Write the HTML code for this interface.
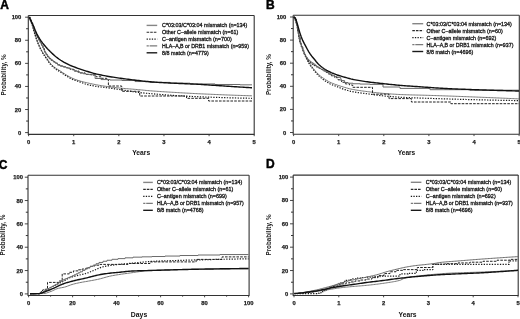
<!DOCTYPE html>
<html><head><meta charset="utf-8"><style>
html,body{margin:0;padding:0;background:#fff;}
svg{display:block;filter:grayscale(1);}
text{font-family:"Liberation Sans", sans-serif;}
</style></head><body>
<svg width="520" height="319" viewBox="0 0 520 319">
<rect width="520" height="319" fill="#fff"/>
<path d="M28.3,15.5 V134.4 H254.2 V15.5" stroke="#333" stroke-width="1.1" fill="none"/>
<path d="M28.3,15.5 H254.2" stroke="#333" stroke-width="1.1" fill="none"/>
<path d="M25.1,132.6 H28.3" stroke="#333" stroke-width="0.9"/>
<text x="21.3" y="134.6" font-size="5.8" text-anchor="end" font-weight="bold" fill="#222" stroke="#222" stroke-width="0.25">0</text>
<path d="M26.1,121.06 H28.3" stroke="#333" stroke-width="1.0"/>
<path d="M25.1,109.52 H28.3" stroke="#333" stroke-width="0.9"/>
<text x="21.3" y="111.52" font-size="5.8" text-anchor="end" font-weight="bold" fill="#222" stroke="#222" stroke-width="0.25">20</text>
<path d="M26.1,97.98 H28.3" stroke="#333" stroke-width="1.0"/>
<path d="M25.1,86.44 H28.3" stroke="#333" stroke-width="0.9"/>
<text x="21.3" y="88.44" font-size="5.8" text-anchor="end" font-weight="bold" fill="#222" stroke="#222" stroke-width="0.25">40</text>
<path d="M26.1,74.9 H28.3" stroke="#333" stroke-width="1.0"/>
<path d="M25.1,63.36 H28.3" stroke="#333" stroke-width="0.9"/>
<text x="21.3" y="65.36" font-size="5.8" text-anchor="end" font-weight="bold" fill="#222" stroke="#222" stroke-width="0.25">60</text>
<path d="M26.1,51.82 H28.3" stroke="#333" stroke-width="1.0"/>
<path d="M25.1,40.28 H28.3" stroke="#333" stroke-width="0.9"/>
<text x="21.3" y="42.28" font-size="5.8" text-anchor="end" font-weight="bold" fill="#222" stroke="#222" stroke-width="0.25">80</text>
<path d="M26.1,28.74 H28.3" stroke="#333" stroke-width="1.0"/>
<path d="M25.1,17.2 H28.3" stroke="#333" stroke-width="0.9"/>
<text x="21.3" y="19.2" font-size="5.8" text-anchor="end" font-weight="bold" fill="#222" stroke="#222" stroke-width="0.25">100</text>
<path d="M28.6,134.4 V136.2" stroke="#333" stroke-width="0.9"/>
<text x="28.6" y="144.4" font-size="5.8" text-anchor="middle" font-weight="bold" fill="#222" stroke="#222" stroke-width="0.25">0</text>
<path d="M73.72,134.4 V136.2" stroke="#333" stroke-width="0.9"/>
<text x="73.72" y="144.4" font-size="5.8" text-anchor="middle" font-weight="bold" fill="#222" stroke="#222" stroke-width="0.25">1</text>
<path d="M118.84,134.4 V136.2" stroke="#333" stroke-width="0.9"/>
<text x="118.84" y="144.4" font-size="5.8" text-anchor="middle" font-weight="bold" fill="#222" stroke="#222" stroke-width="0.25">2</text>
<path d="M163.96,134.4 V136.2" stroke="#333" stroke-width="0.9"/>
<text x="163.96" y="144.4" font-size="5.8" text-anchor="middle" font-weight="bold" fill="#222" stroke="#222" stroke-width="0.25">3</text>
<path d="M209.08,134.4 V136.2" stroke="#333" stroke-width="0.9"/>
<text x="209.08" y="144.4" font-size="5.8" text-anchor="middle" font-weight="bold" fill="#222" stroke="#222" stroke-width="0.25">4</text>
<path d="M254.2,134.4 V136.2" stroke="#333" stroke-width="0.9"/>
<text x="254.2" y="144.4" font-size="5.8" text-anchor="middle" font-weight="bold" fill="#222" stroke="#222" stroke-width="0.25">5</text>
<text x="141.2" y="155.4" font-size="7.8" text-anchor="middle" font-weight="bold" fill="#111" textLength="18" lengthAdjust="spacingAndGlyphs">Years</text>
<text x="0" y="0" font-size="6.4" text-anchor="middle" font-weight="bold" fill="#222" textLength="41" lengthAdjust="spacingAndGlyphs" transform="translate(6.3,75) rotate(-90)">Probability, %</text>
<text x="0.2" y="8.5" font-size="12" text-anchor="start" font-weight="bold" fill="#000" stroke="#000" stroke-width="0.45">A</text>
<path d="M146.6,25.4 H157.2" stroke="#858585" stroke-width="1.4" fill="none"/>
<text x="162" y="27.45" font-size="6.1" text-anchor="start" font-weight="normal" fill="#1a1a1a" textLength="85.4" lengthAdjust="spacingAndGlyphs" stroke="#1a1a1a" stroke-width="0.34">C*03:03/C*03:04 mismatch (n=134)</text>
<path d="M146.6,32.25 H157.2" stroke="#2a2a2a" stroke-width="1.2" fill="none" stroke-dasharray="2.6,1"/>
<text x="162" y="34.3" font-size="6.1" text-anchor="start" font-weight="normal" fill="#1a1a1a" textLength="76.3" lengthAdjust="spacingAndGlyphs" stroke="#1a1a1a" stroke-width="0.34">Other C–allele mismatch (n=61)</text>
<path d="M146.6,39.1 H157.2" stroke="#1a1a1a" stroke-width="1.3" fill="none" stroke-dasharray="1.3,1.3"/>
<text x="162" y="41.15" font-size="6.1" text-anchor="start" font-weight="normal" fill="#1a1a1a" textLength="69.9" lengthAdjust="spacingAndGlyphs" stroke="#1a1a1a" stroke-width="0.34">C–antigen mismatch (n=700)</text>
<path d="M146.6,45.95 H157.2" stroke="#7a7a7a" stroke-width="1.3" fill="none" stroke-dasharray="2.2,0.8,7,0"/>
<text x="162" y="48" font-size="6.1" text-anchor="start" font-weight="normal" fill="#1a1a1a" textLength="86.9" lengthAdjust="spacingAndGlyphs" stroke="#1a1a1a" stroke-width="0.34">HLA–A,B or DRB1 mismatch (n=959)</text>
<path d="M146.6,52.8 H157.2" stroke="#1a1a1a" stroke-width="1.4" fill="none"/>
<text x="162" y="54.85" font-size="6.1" text-anchor="start" font-weight="normal" fill="#1a1a1a" textLength="46.7" lengthAdjust="spacingAndGlyphs" stroke="#1a1a1a" stroke-width="0.34">8/8 match (n=4779)</text>
<polyline points="29.2,17.2 30.7,20.78 32.2,24.43 33.7,29.79 35.2,34.91 36.7,39.33 38.2,43.23 39.7,46.67 41.2,49.7 42.7,52.33 44.2,54.65 45.7,56.8 47.2,58.89 48.7,61.12 50.2,63.12 51.7,64.74 53.2,66.17 54.7,67.42 56.2,68.48 57.7,69.41 59.2,70.3 60.7,71.26 62.2,72.27 63.7,73.29 65.2,74.26 66.7,75.16 68.2,76.05 69.7,76.91 71.2,77.69 72.7,78.39 74.2,79.01 75.7,79.58 77.2,80.11 78.7,80.6 80.2,81.06 81.7,81.48 83.2,81.87 84.7,82.24 86.2,82.59 87.7,82.93 89.2,83.27 90.7,83.6 92.2,83.93 93.7,84.24 95.2,84.54 96.7,84.83 98.2,85.11 99.7,85.37 101.2,85.62 102.7,85.85 104.2,86.07 105.7,86.29 107.2,86.5 108.7,86.71 110.2,86.91 111.7,87.11 113.2,87.3 114.7,87.48 116.2,87.66 117.7,87.83 119.2,87.99 120.7,88.14 122.2,88.29 123.7,88.43 125.2,88.56 126.7,88.69 128.2,88.81 129.7,88.93 131.2,89.05 132.7,89.17 134.2,89.3 135.7,89.42 137.2,89.55 138.7,89.68 140.2,89.82 141.7,89.97 143.2,90.13 144.7,90.28 146.2,90.44 147.7,90.57 149.2,90.7 150.7,90.82 152.2,90.94 153.7,91.05 155.2,91.16 156.7,91.27 158.2,91.38 159.7,91.48 161.2,91.58 162.7,91.68 164.2,91.78 165.7,91.87 167.2,91.97 168.7,92.06 170.2,92.15 171.7,92.24 173.2,92.33 174.7,92.42 176.2,92.51 177.7,92.6 179.2,92.69 180.7,92.78 182.2,92.87 183.7,92.95 185.2,93.04 186.7,93.12 188.2,93.2 189.7,93.28 191.2,93.36 192.7,93.44 194.2,93.52 195.7,93.59 197.2,93.67 198.7,93.74 200.2,93.81 201.7,93.88 203.2,93.95 204.7,94.01 206.2,94.08 207.7,94.15 209.2,94.21 210.7,94.28 212.2,94.35 213.7,94.41 215.2,94.48 216.7,94.54 218.2,94.6 219.7,94.66 221.2,94.73 222.7,94.79 224.2,94.85 225.7,94.91 227.2,94.97 228.7,95.02 230.2,95.08 231.7,95.14 233.2,95.19 234.7,95.25 236.2,95.3 237.7,95.35 239.2,95.4 240.7,95.45 242.2,95.5 243.7,95.55 245.2,95.6 246.7,95.65 248.2,95.69 249.7,95.73 251.2,95.78 252,95.8" stroke="#7a7a7a" stroke-width="1.0" fill="none" stroke-linejoin="round"/>
<polyline points="29.2,17.2 30.7,21.01 32.2,24.9 33.7,30.37 35.2,35.55 36.7,40.02 38.2,44 39.7,47.48 41.2,50.5 42.7,53.12 44.2,55.45 45.7,57.65 47.2,59.79 48.7,62.09 50.2,64.11 51.7,65.71 53.2,67.09 54.7,68.32 56.2,69.4 57.7,70.36 59.2,71.29 60.7,72.27 62.2,73.28 63.7,74.29 65.2,75.26 66.7,76.16 68.2,77.05 69.7,77.91 71.2,78.69 72.7,79.39 74.2,79.99 75.7,80.53 77.2,81.03 78.7,81.54 80.2,82.07 81.7,82.66 83.2,83.26 84.7,83.78 86.2,84.21 87.7,84.6 89.2,84.98 90.7,85.32 92.2,85.65 93.7,85.95 95.2,86.22 96.7,86.46 98.2,86.68 99.7,86.86 101.2,87.02 102.7,87.18 104.2,87.36 105.7,87.56 107.2,87.76 108.7,87.96 110.2,88.17 111.7,88.39 113.2,88.61 114.7,88.83 116.2,89.05 117.7,89.27 119.2,89.49 120.7,89.71 122.2,89.94 123.7,90.17 125.2,90.41 126.7,90.65 128.2,90.89 129.7,91.13 131.2,91.37 132.7,91.6 134.2,91.83 135.7,92.04 137.2,92.25 138.7,92.44 140.2,92.62 141.7,92.79 143.2,92.95 144.7,93.09 146.2,93.24 147.7,93.37 149.2,93.51 150.7,93.64 152.2,93.77 153.7,93.91 155.2,94.04 156.7,94.16 158.2,94.29 159.7,94.42 161.2,94.54 162.7,94.66 164.2,94.78 165.7,94.89 167.2,95 168.7,95.11 170.2,95.22 171.7,95.32 173.2,95.42 174.7,95.52 176.2,95.61 177.7,95.7 179.2,95.79 180.7,95.88 182.2,95.96 183.7,96.04 185.2,96.12 186.7,96.2 188.2,96.28 189.7,96.35 191.2,96.42 192.7,96.49 194.2,96.56 195.7,96.63 197.2,96.69 198.7,96.75 200.2,96.81 201.7,96.86 203.2,96.92 204.7,96.98 206.2,97.03 207.7,97.09 209.2,97.14 210.7,97.19 212.2,97.25 213.7,97.3 215.2,97.35 216.7,97.4 218.2,97.45 219.7,97.5 221.2,97.55 222.7,97.6 224.2,97.65 225.7,97.69 227.2,97.74 228.7,97.78 230.2,97.83 231.7,97.87 233.2,97.91 234.7,97.95 236.2,97.99 237.7,98.02 239.2,98.06 240.7,98.09 242.2,98.12 243.7,98.16 245.2,98.19 246.7,98.21 248.2,98.24 249.7,98.26 251.2,98.29 252,98.3" stroke="#1a1a1a" stroke-width="1.2" fill="none" stroke-dasharray="1.3,1.4" stroke-linejoin="round"/>
<polyline points="29.2,17.2 30.3,17.2 30.3,19.94 31.5,19.94 31.5,22.95 32.7,22.95 32.7,25.99 33.9,25.99 33.9,29.52 35.1,29.52 35.1,33.2 36.3,33.2 36.3,35.86 37.6,35.86 37.6,38.1 38.9,38.1 38.9,40.27 40.2,40.27 40.2,42.74 41.6,42.74 41.6,45.58 43,45.58 43,48.71 44.5,48.71 44.5,52.07 46,52.07 46,54.61 47.6,54.61 47.6,56.79 49.3,56.79 49.3,58.66 51,58.66 51,60.2 53,60.2 53,61.74 55,61.74 55,63.14 57.5,63.14 57.5,64.91 60,64.91 60,66.01 63,66.01 63,66.9 66.3,66.9 66.3,67.9 70,67.9 70,69.36 74,69.36 74,71.03 78.8,71.03 78.8,72.9 85.1,72.9 85.1,74.4 91.4,74.4 91.4,75 96,75 96,76.8 101,76.8 101,78.31 106.8,78.31 106.8,79.6 108.4,79.6 108.4,86 121.7,86 121.7,91.3 139.7,91.3 139.7,96 186.5,96 186.5,98.3 208.6,98.3 208.6,101 252,101 252,101" stroke="#222" stroke-width="1.0" fill="none" stroke-dasharray="2.6,1.2" stroke-linejoin="round"/>
<polyline points="29.2,17.2 29.8,17.2 29.8,18.61 30.4,18.61 30.4,20.05 31,20.05 31,21.5 31.6,21.5 31.6,22.96 32.2,22.96 32.2,24.44 32.8,24.44 32.8,25.97 33.4,25.97 33.4,27.64 34,27.64 34,29.5 34.6,29.5 34.6,31.37 35.2,31.37 35.2,33.07 35.8,33.07 35.8,34.45 36.5,34.45 36.5,35.82 37.2,35.82 37.2,37.04 38,37.04 38,38.35 38.8,38.35 38.8,39.69 39.6,39.69 39.6,41.17 40.4,41.17 40.4,42.74 41.2,42.74 41.2,44.36 42,44.36 42,46.02 42.9,46.02 42.9,48.04 43.8,48.04 43.8,50.1 44.7,50.1 44.7,51.96 45.6,51.96 45.6,53.48 46.6,53.48 46.6,54.97 47.6,54.97 47.6,56.28 48.6,56.28 48.6,57.46 49.7,57.46 49.7,58.61 50.8,58.61 50.8,59.63 52,59.63 52,60.61 53.3,60.61 53.3,61.55 54.6,61.55 54.6,62.46 56,62.46 56,63.5 57.5,63.5 57.5,64.59 59,64.59 59,65.37 60.6,65.37 60.6,65.89 62.3,65.89 62.3,66.39 64,66.39 64,66.89 66,66.89 66,67.5 68,67.5 68,68.21 70,68.21 70,69 72.5,69 72.5,70 75,70 75,71.03 77.5,71.03 77.5,72.04 80,72.04 80,72.88 83,72.88 83,73.73 86,73.73 86,74.34 89.5,74.34 89.5,74.73 95.1,74.73 95.1,78.5 101,78.5 101,79.57 110,79.57 110,80.03 122,80.03 122,80.52 135,80.52 135,81.56 150,81.56 150,82.4 170,82.4 170,83.2 190,83.2 190,83.94 215,83.94 215,84.49 240,84.49 240,84.84 252,84.84 252,84.84" stroke="#6a6a6a" stroke-width="1.0" fill="none" stroke-linejoin="round"/>
<polyline points="29.2,17.2 30.7,20.38 32.2,23.37 33.7,26.57 35.2,30.21 36.7,33.6 38.2,36.4 39.7,38.88 41.2,41.11 42.7,43.11 44.2,44.98 45.7,46.79 47.2,48.52 48.7,50.12 50.2,51.61 51.7,53.02 53.2,54.39 54.7,55.72 56.2,56.96 57.7,58.14 59.2,59.25 60.7,60.26 62.2,61.19 63.7,62.06 65.2,62.88 66.7,63.66 68.2,64.4 69.7,65.1 71.2,65.76 72.7,66.38 74.2,66.97 75.7,67.53 77.2,68.08 78.7,68.6 80.2,69.11 81.7,69.61 83.2,70.1 84.7,70.57 86.2,71.05 87.7,71.52 89.2,71.99 90.7,72.45 92.2,72.9 93.7,73.32 95.2,73.72 96.7,74.09 98.2,74.43 99.7,74.75 101.2,75.06 102.7,75.36 104.2,75.65 105.7,75.92 107.2,76.19 108.7,76.45 110.2,76.7 111.7,76.94 113.2,77.18 114.7,77.41 116.2,77.64 117.7,77.86 119.2,78.08 120.7,78.3 122.2,78.51 123.7,78.72 125.2,78.91 126.7,79.11 128.2,79.3 129.7,79.48 131.2,79.66 132.7,79.84 134.2,80.02 135.7,80.2 137.2,80.37 138.7,80.55 140.2,80.72 141.7,80.9 143.2,81.09 144.7,81.26 146.2,81.43 147.7,81.57 149.2,81.7 150.7,81.82 152.2,81.93 153.7,82.04 155.2,82.14 156.7,82.24 158.2,82.34 159.7,82.43 161.2,82.51 162.7,82.6 164.2,82.68 165.7,82.77 167.2,82.85 168.7,82.93 170.2,83.01 171.7,83.09 173.2,83.17 174.7,83.24 176.2,83.31 177.7,83.38 179.2,83.44 180.7,83.51 182.2,83.57 183.7,83.64 185.2,83.7 186.7,83.77 188.2,83.83 189.7,83.9 191.2,83.96 192.7,84.03 194.2,84.1 195.7,84.17 197.2,84.25 198.7,84.33 200.2,84.41 201.7,84.5 203.2,84.59 204.7,84.69 206.2,84.79 207.7,84.9 209.2,85 210.7,85.11 212.2,85.21 213.7,85.31 215.2,85.41 216.7,85.51 218.2,85.61 219.7,85.71 221.2,85.81 222.7,85.91 224.2,86 225.7,86.1 227.2,86.2 228.7,86.3 230.2,86.4 231.7,86.49 233.2,86.59 234.7,86.69 236.2,86.79 237.7,86.88 239.2,86.98 240.7,87.08 242.2,87.17 243.7,87.27 245.2,87.37 246.7,87.46 248.2,87.56 249.7,87.65 251.2,87.75 252,87.8" stroke="#111" stroke-width="1.4" fill="none" stroke-linejoin="round"/>
<path d="M293.2,15.2 V134.3 H519.3 V15.2" stroke="#333" stroke-width="1.1" fill="none"/>
<path d="M293.2,15.2 H519.3" stroke="#333" stroke-width="1.1" fill="none"/>
<path d="M290,132.5 H293.2" stroke="#333" stroke-width="0.9"/>
<text x="286.3" y="134.5" font-size="5.8" text-anchor="end" font-weight="bold" fill="#222" stroke="#222" stroke-width="0.25">0</text>
<path d="M291,120.95 H293.2" stroke="#333" stroke-width="1.0"/>
<path d="M290,109.4 H293.2" stroke="#333" stroke-width="0.9"/>
<text x="286.3" y="111.4" font-size="5.8" text-anchor="end" font-weight="bold" fill="#222" stroke="#222" stroke-width="0.25">20</text>
<path d="M291,97.85 H293.2" stroke="#333" stroke-width="1.0"/>
<path d="M290,86.3 H293.2" stroke="#333" stroke-width="0.9"/>
<text x="286.3" y="88.3" font-size="5.8" text-anchor="end" font-weight="bold" fill="#222" stroke="#222" stroke-width="0.25">40</text>
<path d="M291,74.75 H293.2" stroke="#333" stroke-width="1.0"/>
<path d="M290,63.2 H293.2" stroke="#333" stroke-width="0.9"/>
<text x="286.3" y="65.2" font-size="5.8" text-anchor="end" font-weight="bold" fill="#222" stroke="#222" stroke-width="0.25">60</text>
<path d="M291,51.65 H293.2" stroke="#333" stroke-width="1.0"/>
<path d="M290,40.1 H293.2" stroke="#333" stroke-width="0.9"/>
<text x="286.3" y="42.1" font-size="5.8" text-anchor="end" font-weight="bold" fill="#222" stroke="#222" stroke-width="0.25">80</text>
<path d="M291,28.55 H293.2" stroke="#333" stroke-width="1.0"/>
<path d="M290,17 H293.2" stroke="#333" stroke-width="0.9"/>
<text x="286.3" y="19" font-size="5.8" text-anchor="end" font-weight="bold" fill="#222" stroke="#222" stroke-width="0.25">100</text>
<path d="M293.6,134.3 V136.1" stroke="#333" stroke-width="0.9"/>
<text x="293.6" y="144.4" font-size="5.8" text-anchor="middle" font-weight="bold" fill="#222" stroke="#222" stroke-width="0.25">0</text>
<path d="M338.7,134.3 V136.1" stroke="#333" stroke-width="0.9"/>
<text x="338.7" y="144.4" font-size="5.8" text-anchor="middle" font-weight="bold" fill="#222" stroke="#222" stroke-width="0.25">1</text>
<path d="M383.8,134.3 V136.1" stroke="#333" stroke-width="0.9"/>
<text x="383.8" y="144.4" font-size="5.8" text-anchor="middle" font-weight="bold" fill="#222" stroke="#222" stroke-width="0.25">2</text>
<path d="M428.9,134.3 V136.1" stroke="#333" stroke-width="0.9"/>
<text x="428.9" y="144.4" font-size="5.8" text-anchor="middle" font-weight="bold" fill="#222" stroke="#222" stroke-width="0.25">3</text>
<path d="M474,134.3 V136.1" stroke="#333" stroke-width="0.9"/>
<text x="474" y="144.4" font-size="5.8" text-anchor="middle" font-weight="bold" fill="#222" stroke="#222" stroke-width="0.25">4</text>
<path d="M519.1,134.3 V136.1" stroke="#333" stroke-width="0.9"/>
<text x="519.1" y="144.4" font-size="5.8" text-anchor="middle" font-weight="bold" fill="#222" stroke="#222" stroke-width="0.25">5</text>
<text x="406.5" y="155.2" font-size="7.8" text-anchor="middle" font-weight="bold" fill="#111" textLength="17.5" lengthAdjust="spacingAndGlyphs">Years</text>
<text x="0" y="0" font-size="6.4" text-anchor="middle" font-weight="bold" fill="#222" textLength="41" lengthAdjust="spacingAndGlyphs" transform="translate(271.3,74.6) rotate(-90)">Probability, %</text>
<text x="266" y="8.7" font-size="12" text-anchor="start" font-weight="bold" fill="#000" stroke="#000" stroke-width="0.45">B</text>
<path d="M412.3,23.7 H423.2" stroke="#858585" stroke-width="1.4" fill="none"/>
<text x="426.5" y="25.75" font-size="6.1" text-anchor="start" font-weight="normal" fill="#1a1a1a" textLength="85.4" lengthAdjust="spacingAndGlyphs" stroke="#1a1a1a" stroke-width="0.34">C*03:03/C*03:04 mismatch (n=134)</text>
<path d="M412.3,30.65 H423.2" stroke="#2a2a2a" stroke-width="1.2" fill="none" stroke-dasharray="2.6,1"/>
<text x="426.5" y="32.7" font-size="6.1" text-anchor="start" font-weight="normal" fill="#1a1a1a" textLength="76.3" lengthAdjust="spacingAndGlyphs" stroke="#1a1a1a" stroke-width="0.34">Other C–allele mismatch (n=60)</text>
<path d="M412.3,37.6 H423.2" stroke="#1a1a1a" stroke-width="1.3" fill="none" stroke-dasharray="1.3,1.3"/>
<text x="426.5" y="39.65" font-size="6.1" text-anchor="start" font-weight="normal" fill="#1a1a1a" textLength="69.9" lengthAdjust="spacingAndGlyphs" stroke="#1a1a1a" stroke-width="0.34">C–antigen mismatch (n=692)</text>
<path d="M412.3,44.55 H423.2" stroke="#7a7a7a" stroke-width="1.3" fill="none" stroke-dasharray="2.2,0.8,7,0"/>
<text x="426.5" y="46.6" font-size="6.1" text-anchor="start" font-weight="normal" fill="#1a1a1a" textLength="86.9" lengthAdjust="spacingAndGlyphs" stroke="#1a1a1a" stroke-width="0.34">HLA–A,B or DRB1 mismatch (n=937)</text>
<path d="M412.3,51.5 H423.2" stroke="#1a1a1a" stroke-width="1.4" fill="none"/>
<text x="426.5" y="53.55" font-size="6.1" text-anchor="start" font-weight="normal" fill="#1a1a1a" textLength="46.7" lengthAdjust="spacingAndGlyphs" stroke="#1a1a1a" stroke-width="0.34">8/8 match (n=4696)</text>
<polyline points="293.8,17 295.3,19.91 296.8,23.6 298.3,32.58 299.8,40.51 301.3,45.44 302.8,48.94 304.3,52.95 305.8,56.34 307.3,59.19 308.8,62.14 310.3,64.52 311.8,66.54 313.3,68.48 314.8,70.36 316.3,72.13 317.8,73.72 319.3,75.1 320.8,76.35 322.3,77.48 323.8,78.53 325.3,79.52 326.8,80.46 328.3,81.33 329.8,82.12 331.3,82.82 332.8,83.45 334.3,84.01 335.8,84.55 337.3,85.07 338.8,85.58 340.3,86.08 341.8,86.55 343.3,87 344.8,87.44 346.3,87.87 347.8,88.29 349.3,88.69 350.8,89.05 352.3,89.36 353.8,89.64 355.3,89.9 356.8,90.15 358.3,90.38 359.8,90.6 361.3,90.82 362.8,91.02 364.3,91.22 365.8,91.41 367.3,91.6 368.8,91.79 370.3,91.98 371.8,92.16 373.3,92.34 374.8,92.52 376.3,92.69 377.8,92.85 379.3,93.01 380.8,93.16 382.3,93.3 383.8,93.43 385.3,93.56 386.8,93.67 388.3,93.79 389.8,93.9 391.3,94.01 392.8,94.11 394.3,94.2 395.8,94.29 397.3,94.38 398.8,94.46 400.3,94.53 401.8,94.6 403.3,94.65 404.8,94.71 406.3,94.76 407.8,94.81 409.3,94.85 410.8,94.9 412.3,94.94 413.8,94.98 415.3,95.02 416.8,95.05 418.3,95.09 419.8,95.12 421.3,95.16 422.8,95.2 424.3,95.24 425.8,95.28 427.3,95.32 428.8,95.36 430.3,95.41 431.8,95.46 433.3,95.51 434.8,95.55 436.3,95.6 437.8,95.65 439.3,95.7 440.8,95.76 442.3,95.81 443.8,95.86 445.3,95.91 446.8,95.96 448.3,96.02 449.8,96.07 451.3,96.12 452.8,96.18 454.3,96.23 455.8,96.29 457.3,96.34 458.8,96.4 460.3,96.46 461.8,96.51 463.3,96.57 464.8,96.63 466.3,96.68 467.8,96.74 469.3,96.8 470.8,96.86 472.3,96.92 473.8,96.97 475.3,97.03 476.8,97.09 478.3,97.15 479.8,97.21 481.3,97.27 482.8,97.33 484.3,97.39 485.8,97.45 487.3,97.51 488.8,97.57 490.3,97.63 491.8,97.7 493.3,97.76 494.8,97.82 496.3,97.89 497.8,97.95 499.3,98.01 500.8,98.08 502.3,98.15 503.8,98.21 505.3,98.28 506.8,98.34 508.3,98.41 509.8,98.48 511.3,98.55 512.8,98.62 514.3,98.68 515.8,98.75 517.3,98.82 518.8,98.89 519,98.9" stroke="#7a7a7a" stroke-width="1.0" fill="none" stroke-linejoin="round"/>
<polyline points="293.8,17 295.3,20.17 296.8,24.2 298.3,33.31 299.8,41.31 301.3,46.24 302.8,49.74 304.3,53.75 305.8,57.19 307.3,60.11 308.8,63.12 310.3,65.52 311.8,67.54 313.3,69.51 314.8,71.44 316.3,73.26 317.8,74.9 319.3,76.33 320.8,77.63 322.3,78.81 323.8,79.91 325.3,80.95 326.8,81.93 328.3,82.86 329.8,83.7 331.3,84.43 332.8,85.07 334.3,85.65 335.8,86.21 337.3,86.78 338.8,87.38 340.3,87.99 341.8,88.57 343.3,89.1 344.8,89.6 346.3,90.08 347.8,90.54 349.3,90.97 350.8,91.34 352.3,91.66 353.8,91.94 355.3,92.19 356.8,92.42 358.3,92.64 359.8,92.84 361.3,93.03 362.8,93.22 364.3,93.41 365.8,93.6 367.3,93.8 368.8,94 370.3,94.21 371.8,94.42 373.3,94.63 374.8,94.83 376.3,95.03 377.8,95.23 379.3,95.42 380.8,95.6 382.3,95.77 383.8,95.92 385.3,96.07 386.8,96.2 388.3,96.34 389.8,96.46 391.3,96.59 392.8,96.71 394.3,96.82 395.8,96.93 397.3,97.03 398.8,97.12 400.3,97.21 401.8,97.29 403.3,97.37 404.8,97.45 406.3,97.52 407.8,97.59 409.3,97.66 410.8,97.72 412.3,97.78 413.8,97.84 415.3,97.9 416.8,97.96 418.3,98.01 419.8,98.06 421.3,98.12 422.8,98.17 424.3,98.22 425.8,98.27 427.3,98.31 428.8,98.36 430.3,98.41 431.8,98.46 433.3,98.5 434.8,98.55 436.3,98.6 437.8,98.64 439.3,98.69 440.8,98.74 442.3,98.78 443.8,98.83 445.3,98.87 446.8,98.92 448.3,98.96 449.8,99.01 451.3,99.05 452.8,99.1 454.3,99.14 455.8,99.18 457.3,99.23 458.8,99.27 460.3,99.31 461.8,99.36 463.3,99.4 464.8,99.44 466.3,99.48 467.8,99.52 469.3,99.56 470.8,99.6 472.3,99.64 473.8,99.68 475.3,99.72 476.8,99.76 478.3,99.79 479.8,99.83 481.3,99.87 482.8,99.9 484.3,99.94 485.8,99.98 487.3,100.01 488.8,100.04 490.3,100.08 491.8,100.11 493.3,100.14 494.8,100.18 496.3,100.21 497.8,100.24 499.3,100.27 500.8,100.3 502.3,100.33 503.8,100.35 505.3,100.38 506.8,100.41 508.3,100.43 509.8,100.46 511.3,100.48 512.8,100.51 514.3,100.53 515.8,100.55 517.3,100.58 518.8,100.6 519,100.6" stroke="#1a1a1a" stroke-width="1.2" fill="none" stroke-dasharray="1.3,1.4" stroke-linejoin="round"/>
<polyline points="293.8,17 295,17 295,19.15 296.3,19.15 296.3,23.73 297.6,23.73 297.6,30.92 298.9,30.92 298.9,37.51 300.2,37.51 300.2,43.08 301.5,43.08 301.5,47.07 302.8,47.07 302.8,50.83 304.1,50.83 304.1,54.23 305.5,54.23 305.5,57.28 307,57.28 307,59.68 308.6,59.68 308.6,61.5 310.3,61.5 310.3,63.06 312.1,63.06 312.1,64.39 314,64.39 314,65.65 316,65.65 316,66.87 318.2,66.87 318.2,68.15 320.5,68.15 320.5,69.47 323,69.47 323,70.87 325.6,70.87 325.6,72.35 328.4,72.35 328.4,74.04 331.4,74.04 331.4,75.82 334.6,75.82 334.6,77.67 338,77.67 338,79.82 341.6,79.82 341.6,82.25 345.4,82.25 345.4,83.9 349.6,83.9 349.6,85 352.7,85 352.7,87.3 372.5,87.3 372.5,94.2 389,94.2 389,98.6 411.4,98.6 411.4,102 450.8,102 450.8,103.7 519,103.7 519,103.7" stroke="#222" stroke-width="1.0" fill="none" stroke-dasharray="2.6,1.2" stroke-linejoin="round"/>
<polyline points="293.8,17 294.5,17 294.5,17.8 295.2,17.8 295.2,19.26 295.9,19.26 295.9,21.3 296.6,21.3 296.6,24.63 297.3,24.63 297.3,28.57 298,28.57 298,32.3 298.7,32.3 298.7,35.73 299.4,35.73 299.4,39.05 300.1,39.05 300.1,41.82 300.8,41.82 300.8,44.07 301.5,44.07 301.5,46.08 302.2,46.08 302.2,48.08 302.9,48.08 302.9,50.11 303.6,50.11 303.6,52.02 304.4,52.02 304.4,53.91 305.2,53.91 305.2,55.64 306,55.64 306,57.14 306.8,57.14 306.8,58.3 307.7,58.3 307.7,59.37 308.6,59.37 308.6,60.29 309.6,60.29 309.6,61.17 310.6,61.17 310.6,61.95 311.7,61.95 311.7,62.65 312.8,62.65 312.8,63.36 314,63.36 314,64.29 315.3,64.29 315.3,65.42 316.6,65.42 316.6,66.5 318,66.5 318,67.49 319.5,67.49 319.5,68.45 321,68.45 321,69.34 322.7,69.34 322.7,70.27 324.5,70.27 324.5,71.15 326.3,71.15 326.3,72.02 328.2,72.02 328.2,73.15 330.2,73.15 330.2,74.55 332.3,74.55 332.3,75.73 334.5,75.73 334.5,76.45 337,76.45 337,77.35 340.8,77.35 340.8,80.6 344.6,80.6 344.6,82.5 348,82.5 348,83.23 353,83.23 353,83.76 360,83.76 360,84.07 370,84.07 370,84.38 383,84.38 383,87 400,87 400,88.4 430,88.4 430,89.7 470,89.7 470,90.2 519,90.2 519,90.2" stroke="#6a6a6a" stroke-width="1.0" fill="none" stroke-linejoin="round"/>
<polyline points="293.8,17 295.3,18.16 296.8,22.3 298.3,27.46 299.8,32.61 301.3,37.01 302.8,40.66 304.3,43.66 305.8,46.44 307.3,49.22 308.8,51.87 310.3,54.24 311.8,56.19 313.3,57.96 314.8,59.8 316.3,61.72 317.8,63.49 319.3,64.95 320.8,66.27 322.3,67.46 323.8,68.54 325.3,69.5 326.8,70.38 328.3,71.19 329.8,71.93 331.3,72.63 332.8,73.27 334.3,73.87 335.8,74.44 337.3,74.97 338.8,75.46 340.3,75.92 341.8,76.36 343.3,76.8 344.8,77.24 346.3,77.69 347.8,78.13 349.3,78.54 350.8,78.93 352.3,79.26 353.8,79.57 355.3,79.87 356.8,80.15 358.3,80.42 359.8,80.67 361.3,80.92 362.8,81.15 364.3,81.37 365.8,81.59 367.3,81.8 368.8,82 370.3,82.2 371.8,82.38 373.3,82.56 374.8,82.74 376.3,82.91 377.8,83.07 379.3,83.24 380.8,83.4 382.3,83.56 383.8,83.72 385.3,83.87 386.8,84.03 388.3,84.19 389.8,84.35 391.3,84.51 392.8,84.66 394.3,84.81 395.8,84.95 397.3,85.1 398.8,85.23 400.3,85.37 401.8,85.49 403.3,85.61 404.8,85.72 406.3,85.83 407.8,85.94 409.3,86.04 410.8,86.14 412.3,86.24 413.8,86.34 415.3,86.43 416.8,86.53 418.3,86.64 419.8,86.74 421.3,86.85 422.8,86.96 424.3,87.08 425.8,87.2 427.3,87.31 428.8,87.43 430.3,87.54 431.8,87.66 433.3,87.77 434.8,87.87 436.3,87.98 437.8,88.07 439.3,88.16 440.8,88.24 442.3,88.32 443.8,88.4 445.3,88.48 446.8,88.55 448.3,88.62 449.8,88.69 451.3,88.76 452.8,88.83 454.3,88.89 455.8,88.95 457.3,89.02 458.8,89.08 460.3,89.14 461.8,89.19 463.3,89.25 464.8,89.31 466.3,89.36 467.8,89.42 469.3,89.47 470.8,89.53 472.3,89.58 473.8,89.64 475.3,89.69 476.8,89.74 478.3,89.8 479.8,89.85 481.3,89.9 482.8,89.95 484.3,90 485.8,90.05 487.3,90.1 488.8,90.15 490.3,90.2 491.8,90.25 493.3,90.3 494.8,90.34 496.3,90.39 497.8,90.43 499.3,90.48 500.8,90.52 502.3,90.57 503.8,90.61 505.3,90.65 506.8,90.69 508.3,90.73 509.8,90.77 511.3,90.81 512.8,90.85 514.3,90.89 515.8,90.93 517.3,90.96 518.8,91 519,91" stroke="#111" stroke-width="1.4" fill="none" stroke-linejoin="round"/>
<path d="M28,175.2 V295.5 H249.1 V175.2" stroke="#333" stroke-width="1.1" fill="none"/>
<path d="M28,175.2 H249.1" stroke="#333" stroke-width="1.1" fill="none"/>
<path d="M24.8,293.9 H28" stroke="#333" stroke-width="0.9"/>
<text x="23" y="295.9" font-size="5.8" text-anchor="end" font-weight="bold" fill="#222" stroke="#222" stroke-width="0.25">0</text>
<path d="M25.8,282.23 H28" stroke="#333" stroke-width="1.0"/>
<path d="M24.8,270.56 H28" stroke="#333" stroke-width="0.9"/>
<text x="23" y="272.56" font-size="5.8" text-anchor="end" font-weight="bold" fill="#222" stroke="#222" stroke-width="0.25">20</text>
<path d="M25.8,258.89 H28" stroke="#333" stroke-width="1.0"/>
<path d="M24.8,247.22 H28" stroke="#333" stroke-width="0.9"/>
<text x="23" y="249.22" font-size="5.8" text-anchor="end" font-weight="bold" fill="#222" stroke="#222" stroke-width="0.25">40</text>
<path d="M25.8,235.55 H28" stroke="#333" stroke-width="1.0"/>
<path d="M24.8,223.88 H28" stroke="#333" stroke-width="0.9"/>
<text x="23" y="225.88" font-size="5.8" text-anchor="end" font-weight="bold" fill="#222" stroke="#222" stroke-width="0.25">60</text>
<path d="M25.8,212.21 H28" stroke="#333" stroke-width="1.0"/>
<path d="M24.8,200.54 H28" stroke="#333" stroke-width="0.9"/>
<text x="23" y="202.54" font-size="5.8" text-anchor="end" font-weight="bold" fill="#222" stroke="#222" stroke-width="0.25">80</text>
<path d="M25.8,188.87 H28" stroke="#333" stroke-width="1.0"/>
<path d="M24.8,177.2 H28" stroke="#333" stroke-width="0.9"/>
<text x="23" y="179.2" font-size="5.8" text-anchor="end" font-weight="bold" fill="#222" stroke="#222" stroke-width="0.25">100</text>
<path d="M28.6,295.5 V297.3" stroke="#333" stroke-width="0.9"/>
<text x="28.6" y="304.7" font-size="5.8" text-anchor="middle" font-weight="bold" fill="#222" stroke="#222" stroke-width="0.25">0</text>
<path d="M50.6,295.5 V296.7" stroke="#333" stroke-width="0.9"/>
<path d="M72.6,295.5 V297.3" stroke="#333" stroke-width="0.9"/>
<text x="72.6" y="304.7" font-size="5.8" text-anchor="middle" font-weight="bold" fill="#222" stroke="#222" stroke-width="0.25">20</text>
<path d="M94.6,295.5 V296.7" stroke="#333" stroke-width="0.9"/>
<path d="M116.6,295.5 V297.3" stroke="#333" stroke-width="0.9"/>
<text x="116.6" y="304.7" font-size="5.8" text-anchor="middle" font-weight="bold" fill="#222" stroke="#222" stroke-width="0.25">40</text>
<path d="M138.6,295.5 V296.7" stroke="#333" stroke-width="0.9"/>
<path d="M160.6,295.5 V297.3" stroke="#333" stroke-width="0.9"/>
<text x="160.6" y="304.7" font-size="5.8" text-anchor="middle" font-weight="bold" fill="#222" stroke="#222" stroke-width="0.25">60</text>
<path d="M182.6,295.5 V296.7" stroke="#333" stroke-width="0.9"/>
<path d="M204.6,295.5 V297.3" stroke="#333" stroke-width="0.9"/>
<text x="204.6" y="304.7" font-size="5.8" text-anchor="middle" font-weight="bold" fill="#222" stroke="#222" stroke-width="0.25">80</text>
<path d="M226.6,295.5 V296.7" stroke="#333" stroke-width="0.9"/>
<path d="M248.6,295.5 V297.3" stroke="#333" stroke-width="0.9"/>
<text x="248.6" y="304.7" font-size="5.8" text-anchor="middle" font-weight="bold" fill="#222" stroke="#222" stroke-width="0.25">100</text>
<text x="139" y="316.9" font-size="7.8" text-anchor="middle" font-weight="bold" fill="#111" textLength="16.4" lengthAdjust="spacingAndGlyphs">Days</text>
<text x="0" y="0" font-size="6.4" text-anchor="middle" font-weight="bold" fill="#222" textLength="41" lengthAdjust="spacingAndGlyphs" transform="translate(4.8,235.1) rotate(-90)">Probability, %</text>
<text x="-1.2" y="168.5" font-size="12" text-anchor="start" font-weight="bold" fill="#000" stroke="#000" stroke-width="0.45">C</text>
<path d="M143.2,182.4 H152.8" stroke="#858585" stroke-width="1.4" fill="none"/>
<text x="156.9" y="184.45" font-size="6.1" text-anchor="start" font-weight="normal" fill="#1a1a1a" textLength="85.4" lengthAdjust="spacingAndGlyphs" stroke="#1a1a1a" stroke-width="0.34">C*03:03/C*03:04 mismatch (n=134)</text>
<path d="M143.2,189.38 H152.8" stroke="#2a2a2a" stroke-width="1.2" fill="none" stroke-dasharray="2.6,1"/>
<text x="156.9" y="191.43" font-size="6.1" text-anchor="start" font-weight="normal" fill="#1a1a1a" textLength="76.3" lengthAdjust="spacingAndGlyphs" stroke="#1a1a1a" stroke-width="0.34">Other C–allele mismatch (n=61)</text>
<path d="M143.2,196.36 H152.8" stroke="#1a1a1a" stroke-width="1.3" fill="none" stroke-dasharray="1.3,1.3"/>
<text x="156.9" y="198.41" font-size="6.1" text-anchor="start" font-weight="normal" fill="#1a1a1a" textLength="69.9" lengthAdjust="spacingAndGlyphs" stroke="#1a1a1a" stroke-width="0.34">C–antigen mismatch (n=699)</text>
<path d="M143.2,203.34 H152.8" stroke="#7a7a7a" stroke-width="1.3" fill="none" stroke-dasharray="2.2,0.8,7,0"/>
<text x="156.9" y="205.39" font-size="6.1" text-anchor="start" font-weight="normal" fill="#1a1a1a" textLength="86.9" lengthAdjust="spacingAndGlyphs" stroke="#1a1a1a" stroke-width="0.34">HLA–A,B or DRB1 mismatch (n=957)</text>
<path d="M143.2,210.32 H152.8" stroke="#1a1a1a" stroke-width="1.4" fill="none"/>
<text x="156.9" y="212.37" font-size="6.1" text-anchor="start" font-weight="normal" fill="#1a1a1a" textLength="46.7" lengthAdjust="spacingAndGlyphs" stroke="#1a1a1a" stroke-width="0.34">8/8 match (n=4768)</text>
<polyline points="30,293.7 31.5,293.7 33,293.69 34.5,293.68 36,293.67 37.5,293.65 39,293.62 40.5,293.59 42,293.56 43.5,293.52 45,293.4 46.5,293.04 48,292.52 49.5,291.97 51,291.43 52.5,290.77 54,290.06 55.5,289.36 57,288.75 58.5,288.3 60,287.97 61.5,287.7 63,287.43 64.5,287.12 66,286.71 67.5,286.17 69,285.57 70.5,285 72,284.5 73.5,284.09 75,283.7 76.5,283.35 78,283.02 79.5,282.7 81,282.41 82.5,282.14 84,281.88 85.5,281.62 87,281.36 88.5,281.09 90,280.83 91.5,280.56 93,280.29 94.5,280.01 96,279.72 97.5,279.41 99,279.07 100.5,278.7 102,278.29 103.5,277.87 105,277.45 106.5,277.03 108,276.63 109.5,276.26 111,275.94 112.5,275.65 114,275.38 115.5,275.12 117,274.87 118.5,274.63 120,274.4 121.5,274.17 123,273.95 124.5,273.74 126,273.53 127.5,273.32 129,273.12 130.5,272.91 132,272.7 133.5,272.48 135,272.26 136.5,272.03 138,271.81 139.5,271.59 141,271.39 142.5,271.21 144,271.04 145.5,270.87 147,270.72 148.5,270.59 150,270.5 151.5,270.43 153,270.37 154.5,270.31 156,270.25 157.5,270.19 159,270.13 160.5,270.08 162,270.03 163.5,269.99 165,269.94 166.5,269.9 168,269.86 169.5,269.82 171,269.78 172.5,269.74 174,269.71 175.5,269.68 177,269.64 178.5,269.61 180,269.59 181.5,269.56 183,269.53 184.5,269.5 186,269.48 187.5,269.46 189,269.43 190.5,269.41 192,269.39 193.5,269.36 195,269.34 196.5,269.32 198,269.3 199.5,269.28 201,269.26 202.5,269.24 204,269.22 205.5,269.19 207,269.17 208.5,269.15 210,269.13 211.5,269.11 213,269.1 214.5,269.08 216,269.06 217.5,269.04 219,269.02 220.5,269 222,268.99 223.5,268.97 225,268.96 226.5,268.94 228,268.93 229.5,268.91 231,268.9 232.5,268.89 234,268.87 235.5,268.86 237,268.85 238.5,268.84 240,268.83 241.5,268.83 243,268.82 244.5,268.81 246,268.81 247.5,268.8 248.6,268.8" stroke="#7a7a7a" stroke-width="1.0" fill="none" stroke-linejoin="round"/>
<polyline points="30,293.7 31.5,293.7 33,293.69 34.5,293.68 36,293.67 37.5,293.65 39,293.62 40.5,293.54 42,292.88 43.5,291.97 45,291.12 46.5,290.17 48,289.18 49.5,288.21 51,287.33 52.5,286.53 54,285.76 55.5,285.02 57,284.29 58.5,283.57 60,282.89 61.5,282.22 63,281.51 64.5,280.72 66,279.75 67.5,278.75 69,277.93 70.5,277.36 72,276.9 73.5,276.49 75,276.13 76.5,275.77 78,275.4 79.5,275.03 81,274.69 82.5,274.35 84,274 85.5,273.6 87,273.15 88.5,272.61 90,272.02 91.5,271.39 93,270.75 94.5,270.12 96,269.46 97.5,268.8 99,268.2 100.5,267.61 102,267.09 103.5,266.68 105,266.34 106.5,266.05 108,265.79 109.5,265.55 111,265.34 112.5,265.14 114,264.96 115.5,264.78 117,264.62 118.5,264.46 120,264.3 121.5,264.15 123,264 124.5,263.87 126,263.73 127.5,263.6 129,263.47 130.5,263.34 132,263.2 133.5,263.06 135,262.9 136.5,262.74 138,262.58 139.5,262.42 141,262.26 142.5,262.11 144,261.96 145.5,261.82 147,261.7 148.5,261.59 150,261.5 151.5,261.42 153,261.35 154.5,261.27 156,261.2 157.5,261.14 159,261.07 160.5,261.01 162,260.95 163.5,260.89 165,260.84 166.5,260.78 168,260.73 169.5,260.68 171,260.63 172.5,260.59 174,260.54 175.5,260.5 177,260.46 178.5,260.41 180,260.37 181.5,260.33 183,260.29 184.5,260.25 186,260.21 187.5,260.17 189,260.13 190.5,260.09 192,260.05 193.5,260.01 195,259.97 196.5,259.93 198,259.89 199.5,259.85 201,259.81 202.5,259.78 204,259.74 205.5,259.7 207,259.66 208.5,259.62 210,259.59 211.5,259.55 213,259.51 214.5,259.48 216,259.44 217.5,259.41 219,259.37 220.5,259.34 222,259.3 223.5,259.27 225,259.24 226.5,259.21 228,259.18 229.5,259.14 231,259.11 232.5,259.08 234,259.05 235.5,259.03 237,259 238.5,258.97 240,258.94 241.5,258.92 243,258.89 244.5,258.87 246,258.84 247.5,258.82 248.6,258.8" stroke="#1a1a1a" stroke-width="1.2" fill="none" stroke-dasharray="1.3,1.4" stroke-linejoin="round"/>
<polyline points="30,293.7 40.5,293.7 40.5,292.2 41.5,292.2 41.5,291 42.5,291 42.5,290 43.5,290 43.5,289.6 44.5,289.6 44.5,289.4 45.5,289.4 45.5,289.2 46.5,289.2 46.5,289 47.5,289 47.5,282.4 59,282.4 59,281 62.2,281 62.2,273.9 69.3,273.9 69.3,272.3 73.4,272.3 73.4,270.9 78.3,270.9 78.3,269.8 82.1,269.8 82.1,269 86.2,269 86.2,267.8 90,267.8 90,266.3 94.3,266.3 94.3,265.2 100,265.2 100,264.4 128,264.4 128,263.5 150,263.5 150,261.9 196.1,261.9 196.1,259.4 222,259.4 222,256.9 248.6,256.9 248.6,256.9" stroke="#222" stroke-width="1.0" fill="none" stroke-dasharray="2.6,1.2" stroke-linejoin="round"/>
<polyline points="30,293.7 40,293.7 40,293.35 41,293.35 41,292.8 42,292.8 42,292.2 43,292.2 43,291.6 44,291.6 44,290.92 45,290.92 45,290.23 46,290.23 46,289.6 47,289.6 47,289.04 48,289.04 48,288.52 49,288.52 49,288.01 50,288.01 50,287.5 51,287.5 51,287 52,287 52,286.52 53,286.52 53,286.04 54,286.04 54,285.54 55.2,285.54 55.2,284.88 56.4,284.88 56.4,284.13 57.6,284.13 57.6,283.29 58.8,283.29 58.8,282.42 60,282.42 60,281.57 61.3,281.57 61.3,280.72 62.6,280.72 62.6,279.99 64,279.99 64,279.32 65.5,279.32 65.5,278.66 67,278.66 67,278.05 68.5,278.05 68.5,277.43 70,277.43 70,276.78 72,276.78 72,275.84 74,275.84 74,274.87 76,274.87 76,273.88 78,273.88 78,272.85 80,272.85 80,271.8 82.5,271.8 82.5,270.38 85,270.38 85,268.94 87.5,268.94 87.5,267.66 90,267.66 90,266.53 93,266.53 93,265.2 96,265.2 96,263.73 99,263.73 99,262.44 103,262.44 103,261.26 107,261.26 107,260.26 112,260.26 112,259.31 118,259.31 118,258.61 125,258.61 125,257.83 133,257.83 133,257.15 142,257.15 142,256.83 152,256.83 152,256.53 165,256.53 165,256.06 180,256.06 180,255.52 198,255.52 198,255 220,255 220,254.56 248.6,254.56 248.6,254.56" stroke="#6a6a6a" stroke-width="1.0" fill="none" stroke-linejoin="round"/>
<polyline points="30,293.7 31.5,293.7 33,293.69 34.5,293.68 36,293.66 37.5,293.63 39,293.6 40.5,293.3 42,292.8 43.5,292.31 45,291.77 46.5,291.19 48,290.6 49.5,290 51,289.37 52.5,288.72 54,288.05 55.5,287.37 57,286.63 58.5,285.89 60,285.2 61.5,284.57 63,283.97 64.5,283.41 66,282.89 67.5,282.45 69,282.06 70.5,281.67 72,281.28 73.5,280.9 75,280.52 76.5,280.16 78,279.8 79.5,279.46 81,279.14 82.5,278.82 84,278.5 85.5,278.16 87,277.81 88.5,277.43 90,277.03 91.5,276.63 93,276.23 94.5,275.85 96,275.5 97.5,275.16 99,274.83 100.5,274.52 102,274.23 103.5,273.97 105,273.76 106.5,273.57 108,273.39 109.5,273.22 111,273.07 112.5,272.92 114,272.78 115.5,272.64 117,272.49 118.5,272.35 120,272.2 121.5,272.04 123,271.86 124.5,271.69 126,271.51 127.5,271.35 129,271.21 130.5,271.09 132,271 133.5,270.94 135,270.88 136.5,270.83 138,270.79 139.5,270.75 141,270.71 142.5,270.68 144,270.64 145.5,270.61 147,270.58 148.5,270.54 150,270.5 151.5,270.46 153,270.42 154.5,270.37 156,270.33 157.5,270.29 159,270.24 160.5,270.2 162,270.15 163.5,270.11 165,270.06 166.5,270.02 168,269.97 169.5,269.93 171,269.88 172.5,269.84 174,269.8 175.5,269.75 177,269.71 178.5,269.67 180,269.62 181.5,269.58 183,269.54 184.5,269.5 186,269.47 187.5,269.43 189,269.39 190.5,269.36 192,269.32 193.5,269.29 195,269.26 196.5,269.23 198,269.2 199.5,269.17 201,269.15 202.5,269.12 204,269.09 205.5,269.07 207,269.04 208.5,269.01 210,268.99 211.5,268.96 213,268.94 214.5,268.91 216,268.89 217.5,268.87 219,268.84 220.5,268.82 222,268.8 223.5,268.78 225,268.75 226.5,268.73 228,268.71 229.5,268.69 231,268.67 232.5,268.66 234,268.64 235.5,268.62 237,268.6 238.5,268.59 240,268.57 241.5,268.56 243,268.54 244.5,268.53 246,268.52 247.5,268.51 248.6,268.5" stroke="#111" stroke-width="1.4" fill="none" stroke-linejoin="round"/>
<path d="M293.2,175.1 V295.5 H518.2 V175.1" stroke="#333" stroke-width="1.1" fill="none"/>
<path d="M293.2,175.1 H518.2" stroke="#333" stroke-width="1.1" fill="none"/>
<path d="M290,293.9 H293.2" stroke="#333" stroke-width="0.9"/>
<text x="288.3" y="295.9" font-size="5.8" text-anchor="end" font-weight="bold" fill="#222" stroke="#222" stroke-width="0.25">0</text>
<path d="M291,282.22 H293.2" stroke="#333" stroke-width="1.0"/>
<path d="M290,270.54 H293.2" stroke="#333" stroke-width="0.9"/>
<text x="288.3" y="272.54" font-size="5.8" text-anchor="end" font-weight="bold" fill="#222" stroke="#222" stroke-width="0.25">20</text>
<path d="M291,258.86 H293.2" stroke="#333" stroke-width="1.0"/>
<path d="M290,247.18 H293.2" stroke="#333" stroke-width="0.9"/>
<text x="288.3" y="249.18" font-size="5.8" text-anchor="end" font-weight="bold" fill="#222" stroke="#222" stroke-width="0.25">40</text>
<path d="M291,235.5 H293.2" stroke="#333" stroke-width="1.0"/>
<path d="M290,223.82 H293.2" stroke="#333" stroke-width="0.9"/>
<text x="288.3" y="225.82" font-size="5.8" text-anchor="end" font-weight="bold" fill="#222" stroke="#222" stroke-width="0.25">60</text>
<path d="M291,212.14 H293.2" stroke="#333" stroke-width="1.0"/>
<path d="M290,200.46 H293.2" stroke="#333" stroke-width="0.9"/>
<text x="288.3" y="202.46" font-size="5.8" text-anchor="end" font-weight="bold" fill="#222" stroke="#222" stroke-width="0.25">80</text>
<path d="M291,188.78 H293.2" stroke="#333" stroke-width="1.0"/>
<path d="M290,177.1 H293.2" stroke="#333" stroke-width="0.9"/>
<text x="288.3" y="179.1" font-size="5.8" text-anchor="end" font-weight="bold" fill="#222" stroke="#222" stroke-width="0.25">100</text>
<path d="M294,295.5 V297.3" stroke="#333" stroke-width="0.9"/>
<text x="294" y="304.7" font-size="5.8" text-anchor="middle" font-weight="bold" fill="#222" stroke="#222" stroke-width="0.25">0</text>
<path d="M338.8,295.5 V297.3" stroke="#333" stroke-width="0.9"/>
<text x="338.8" y="304.7" font-size="5.8" text-anchor="middle" font-weight="bold" fill="#222" stroke="#222" stroke-width="0.25">1</text>
<path d="M383.6,295.5 V297.3" stroke="#333" stroke-width="0.9"/>
<text x="383.6" y="304.7" font-size="5.8" text-anchor="middle" font-weight="bold" fill="#222" stroke="#222" stroke-width="0.25">2</text>
<path d="M428.4,295.5 V297.3" stroke="#333" stroke-width="0.9"/>
<text x="428.4" y="304.7" font-size="5.8" text-anchor="middle" font-weight="bold" fill="#222" stroke="#222" stroke-width="0.25">3</text>
<path d="M473.2,295.5 V297.3" stroke="#333" stroke-width="0.9"/>
<text x="473.2" y="304.7" font-size="5.8" text-anchor="middle" font-weight="bold" fill="#222" stroke="#222" stroke-width="0.25">4</text>
<path d="M518,295.5 V297.3" stroke="#333" stroke-width="0.9"/>
<text x="518" y="304.7" font-size="5.8" text-anchor="middle" font-weight="bold" fill="#222" stroke="#222" stroke-width="0.25">5</text>
<text x="407.6" y="316.6" font-size="7.8" text-anchor="middle" font-weight="bold" fill="#111" textLength="18" lengthAdjust="spacingAndGlyphs">Years</text>
<text x="0" y="0" font-size="6.4" text-anchor="middle" font-weight="bold" fill="#222" textLength="41" lengthAdjust="spacingAndGlyphs" transform="translate(271.1,235) rotate(-90)">Probability, %</text>
<text x="266" y="168.1" font-size="12" text-anchor="start" font-weight="bold" fill="#000" stroke="#000" stroke-width="0.45">D</text>
<path d="M410.8,182.3 H421.4" stroke="#858585" stroke-width="1.4" fill="none"/>
<text x="425.8" y="184.35" font-size="6.1" text-anchor="start" font-weight="normal" fill="#1a1a1a" textLength="85.4" lengthAdjust="spacingAndGlyphs" stroke="#1a1a1a" stroke-width="0.34">C*03:03/C*03:04 mismatch (n=134)</text>
<path d="M410.8,189.3 H421.4" stroke="#2a2a2a" stroke-width="1.2" fill="none" stroke-dasharray="2.6,1"/>
<text x="425.8" y="191.35" font-size="6.1" text-anchor="start" font-weight="normal" fill="#1a1a1a" textLength="76.3" lengthAdjust="spacingAndGlyphs" stroke="#1a1a1a" stroke-width="0.34">Other C–allele mismatch (n=60)</text>
<path d="M410.8,196.3 H421.4" stroke="#1a1a1a" stroke-width="1.3" fill="none" stroke-dasharray="1.3,1.3"/>
<text x="425.8" y="198.35" font-size="6.1" text-anchor="start" font-weight="normal" fill="#1a1a1a" textLength="69.9" lengthAdjust="spacingAndGlyphs" stroke="#1a1a1a" stroke-width="0.34">C–antigen mismatch (n=692)</text>
<path d="M410.8,203.3 H421.4" stroke="#7a7a7a" stroke-width="1.3" fill="none" stroke-dasharray="2.2,0.8,7,0"/>
<text x="425.8" y="205.35" font-size="6.1" text-anchor="start" font-weight="normal" fill="#1a1a1a" textLength="86.9" lengthAdjust="spacingAndGlyphs" stroke="#1a1a1a" stroke-width="0.34">HLA–A,B or DRB1 mismatch (n=937)</text>
<path d="M410.8,210.3 H421.4" stroke="#1a1a1a" stroke-width="1.4" fill="none"/>
<text x="425.8" y="212.35" font-size="6.1" text-anchor="start" font-weight="normal" fill="#1a1a1a" textLength="46.7" lengthAdjust="spacingAndGlyphs" stroke="#1a1a1a" stroke-width="0.34">8/8 match (n=4696)</text>
<polyline points="294.2,293.5 295.7,293.43 297.2,293.35 298.7,293.25 300.2,293.14 301.7,293.02 303.2,292.89 304.7,292.76 306.2,292.62 307.7,292.47 309.2,292.32 310.7,292.16 312.2,292 313.7,291.82 315.2,291.63 316.7,291.44 318.2,291.24 319.7,291.03 321.2,290.82 322.7,290.6 324.2,290.39 325.7,290.17 327.2,289.93 328.7,289.67 330.2,289.41 331.7,289.15 333.2,288.88 334.7,288.63 336.2,288.38 337.7,288.15 339.2,287.95 340.7,287.76 342.2,287.57 343.7,287.4 345.2,287.24 346.7,287.08 348.2,286.93 349.7,286.79 351.2,286.65 352.7,286.52 354.2,286.39 355.7,286.27 357.2,286.15 358.7,286.03 360.2,285.91 361.7,285.78 363.2,285.66 364.7,285.52 366.2,285.38 367.7,285.23 369.2,285.07 370.7,284.91 372.2,284.74 373.7,284.57 375.2,284.39 376.7,284.21 378.2,284.02 379.7,283.82 381.2,283.62 382.7,283.41 384.2,283.19 385.7,282.97 387.2,282.74 388.7,282.51 390.2,282.28 391.7,282.04 393.2,281.79 394.7,281.52 396.2,281.22 397.7,280.89 399.2,280.52 400.7,280.06 402.2,279.34 403.7,278.52 405.2,277.84 406.7,277.45 408.2,277.18 409.7,276.94 411.2,276.74 412.7,276.56 414.2,276.4 415.7,276.25 417.2,276.1 418.7,275.95 420.2,275.78 421.7,275.6 423.2,275.42 424.7,275.25 426.2,275.09 427.7,274.93 429.2,274.78 430.7,274.64 432.2,274.5 433.7,274.36 435.2,274.23 436.7,274.1 438.2,273.97 439.7,273.85 441.2,273.73 442.7,273.62 444.2,273.51 445.7,273.41 447.2,273.32 448.7,273.24 450.2,273.16 451.7,273.09 453.2,273.02 454.7,272.96 456.2,272.9 457.7,272.84 459.2,272.79 460.7,272.74 462.2,272.69 463.7,272.64 465.2,272.59 466.7,272.55 468.2,272.5 469.7,272.45 471.2,272.41 472.7,272.36 474.2,272.31 475.7,272.26 477.2,272.21 478.7,272.15 480.2,272.09 481.7,272.03 483.2,271.97 484.7,271.91 486.2,271.85 487.7,271.79 489.2,271.72 490.7,271.66 492.2,271.6 493.7,271.53 495.2,271.47 496.7,271.4 498.2,271.33 499.7,271.27 501.2,271.2 502.7,271.13 504.2,271.06 505.7,270.99 507.2,270.92 508.7,270.85 510.2,270.78 511.7,270.71 513.2,270.64 514.7,270.56 516.2,270.49 517.7,270.41 518,270.4" stroke="#7a7a7a" stroke-width="1.0" fill="none" stroke-linejoin="round"/>
<polyline points="294.2,293.6 317,293.6 317,293.4 319,293.4 319,292.82 321,292.82 321,291.71 323,291.71 323,290.76 325,290.76 325,289.86 327,289.86 327,288.96 329,288.96 329,288.06 331,288.06 331,287.14 333,287.14 333,286.2 335,286.2 335,285.25 337,285.25 337,284.32 339,284.32 339,283.41 341,283.41 341,282.49 343.5,282.49 343.5,281.38 346,281.38 346,280.43 349,280.43 349,279.5 352,279.5 352,278.76 356,278.76 356,278.07 361,278.07 361,277.52 367,277.52 367,277.19 373,277.19 373,276.66 380,276.66 380,276.1 400,276.1 400,273.9 408,273.9 408,273.3 416.4,273.3 416.4,270.4 424,270.4 424,269.55 432.8,269.55 432.8,264.4 509,264.4 509,260.8 518,260.8 518,260.8" stroke="#1a1a1a" stroke-width="1.2" fill="none" stroke-dasharray="1.3,1.4" stroke-linejoin="round"/>
<polyline points="294.2,293.5 298,293.5 298,293.33 302,293.33 302,293.02 306,293.02 306,292.52 310,292.52 310,291.9 314,291.9 314,291.14 318,291.14 318,290.28 322,290.28 322,289.32 326,289.32 326,288.27 330,288.27 330,287.08 334,287.08 334,285.96 338,285.96 338,284.91 342,284.91 342,283.86 346,283.86 346,282.85 350,282.85 350,281.96 355,281.96 355,280.95 360,280.95 360,280.04 366,280.04 366,279.04 372,279.04 372,277.64 378,277.64 378,275.6 384,275.6 384,273.57 390,273.57 390,271.75 396,271.75 396,270.33 403,270.33 403,269.61 417.3,269.61 417.3,267.5 432.8,267.5 432.8,264.2 445,264.2 445,263.66 458,263.66 458,262.95 470,262.95 470,262.19 483,262.19 483,261.28 497,261.28 497,260.21 510,260.21 510,259.36 518,259.36 518,259.36" stroke="#222" stroke-width="1.0" fill="none" stroke-dasharray="2.6,1.2" stroke-linejoin="round"/>
<polyline points="294.2,293.5 295.7,293.43 297.2,293.34 298.7,293.22 300.2,293.07 301.7,292.9 303.2,292.68 304.7,292.4 306.2,292.09 307.7,291.76 309.2,291.44 310.7,291.14 312.2,290.84 313.7,290.54 315.2,290.22 316.7,289.89 318.2,289.54 319.7,289.16 321.2,288.77 322.7,288.36 324.2,287.96 325.7,287.56 327.2,287.17 328.7,286.77 330.2,286.37 331.7,285.96 333.2,285.53 334.7,285.09 336.2,284.62 337.7,284.14 339.2,283.68 340.7,283.21 342.2,282.74 343.7,282.28 345.2,281.83 346.7,281.41 348.2,281.02 349.7,280.66 351.2,280.31 352.7,279.98 354.2,279.65 355.7,279.33 357.2,279.01 358.7,278.7 360.2,278.39 361.7,278.09 363.2,277.8 364.7,277.49 366.2,277.18 367.7,276.87 369.2,276.54 370.7,276.21 372.2,275.87 373.7,275.52 375.2,275.16 376.7,274.78 378.2,274.38 379.7,273.93 381.2,273.46 382.7,272.97 384.2,272.48 385.7,272.02 387.2,271.59 388.7,271.18 390.2,270.79 391.7,270.4 393.2,270.03 394.7,269.66 396.2,269.3 397.7,268.94 399.2,268.58 400.7,268.23 402.2,267.89 403.7,267.56 405.2,267.25 406.7,266.97 408.2,266.7 409.7,266.44 411.2,266.2 412.7,265.97 414.2,265.76 415.7,265.56 417.2,265.38 418.7,265.22 420.2,265.07 421.7,264.92 423.2,264.77 424.7,264.61 426.2,264.45 427.7,264.28 429.2,264.12 430.7,263.95 432.2,263.77 433.7,263.57 435.2,263.34 436.7,263.06 438.2,262.78 439.7,262.54 441.2,262.36 442.7,262.2 444.2,262.05 445.7,261.91 447.2,261.78 448.7,261.66 450.2,261.55 451.7,261.44 453.2,261.33 454.7,261.22 456.2,261.11 457.7,260.99 459.2,260.87 460.7,260.74 462.2,260.62 463.7,260.5 465.2,260.37 466.7,260.25 468.2,260.13 469.7,260 471.2,259.88 472.7,259.76 474.2,259.65 475.7,259.53 477.2,259.41 478.7,259.3 480.2,259.19 481.7,259.07 483.2,258.96 484.7,258.86 486.2,258.75 487.7,258.64 489.2,258.54 490.7,258.44 492.2,258.33 493.7,258.23 495.2,258.13 496.7,258.03 498.2,257.92 499.7,257.82 501.2,257.72 502.7,257.62 504.2,257.52 505.7,257.42 507.2,257.31 508.7,257.21 510.2,257.11 511.7,257.01 513.2,256.92 514.7,256.82 516.2,256.72 517.7,256.62 518,256.6" stroke="#6a6a6a" stroke-width="1.0" fill="none" stroke-linejoin="round"/>
<polyline points="294.2,293.5 295.7,293.43 297.2,293.34 298.7,293.21 300.2,293.06 301.7,292.9 303.2,292.72 304.7,292.5 306.2,292.27 307.7,292.05 309.2,291.83 310.7,291.63 312.2,291.45 313.7,291.26 315.2,291.07 316.7,290.86 318.2,290.62 319.7,290.35 321.2,290.05 322.7,289.74 324.2,289.43 325.7,289.1 327.2,288.74 328.7,288.38 330.2,288.06 331.7,287.78 333.2,287.51 334.7,287.26 336.2,287.02 337.7,286.78 339.2,286.53 340.7,286.28 342.2,286.04 343.7,285.79 345.2,285.55 346.7,285.32 348.2,285.1 349.7,284.89 351.2,284.69 352.7,284.49 354.2,284.29 355.7,284.08 357.2,283.87 358.7,283.65 360.2,283.43 361.7,283.2 363.2,282.98 364.7,282.76 366.2,282.54 367.7,282.34 369.2,282.15 370.7,281.97 372.2,281.8 373.7,281.63 375.2,281.46 376.7,281.28 378.2,281.1 379.7,280.92 381.2,280.73 382.7,280.54 384.2,280.34 385.7,280.15 387.2,279.95 388.7,279.74 390.2,279.53 391.7,279.31 393.2,279.1 394.7,278.89 396.2,278.7 397.7,278.52 399.2,278.34 400.7,278.17 402.2,278.01 403.7,277.85 405.2,277.69 406.7,277.53 408.2,277.38 409.7,277.23 411.2,277.07 412.7,276.92 414.2,276.77 415.7,276.62 417.2,276.48 418.7,276.34 420.2,276.2 421.7,276.06 423.2,275.93 424.7,275.81 426.2,275.69 427.7,275.57 429.2,275.45 430.7,275.33 432.2,275.22 433.7,275.11 435.2,275.01 436.7,274.9 438.2,274.81 439.7,274.72 441.2,274.63 442.7,274.55 444.2,274.47 445.7,274.4 447.2,274.32 448.7,274.25 450.2,274.18 451.7,274.12 453.2,274.05 454.7,273.98 456.2,273.92 457.7,273.85 459.2,273.78 460.7,273.72 462.2,273.65 463.7,273.59 465.2,273.53 466.7,273.47 468.2,273.41 469.7,273.35 471.2,273.29 472.7,273.23 474.2,273.17 475.7,273.1 477.2,273.04 478.7,272.96 480.2,272.89 481.7,272.81 483.2,272.72 484.7,272.64 486.2,272.54 487.7,272.45 489.2,272.35 490.7,272.25 492.2,272.16 493.7,272.06 495.2,271.96 496.7,271.86 498.2,271.76 499.7,271.66 501.2,271.55 502.7,271.45 504.2,271.34 505.7,271.23 507.2,271.12 508.7,271.01 510.2,270.9 511.7,270.79 513.2,270.68 514.7,270.56 516.2,270.44 517.7,270.32 518,270.3" stroke="#111" stroke-width="1.4" fill="none" stroke-linejoin="round"/>
</svg>
</body></html>
